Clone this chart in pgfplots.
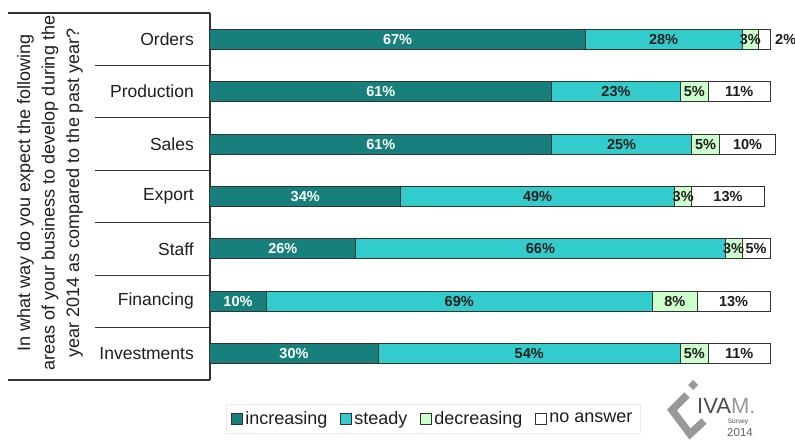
\documentclass[border=0pt]{standalone}
\usepackage{pgfplots}
\pgfplotsset{compat=1.18}
\usepackage{pgfplotstable}
\usepackage{fontspec}
\setmainfont{Liberation Sans}
\definecolor{cinc}{HTML}{17807C}
\definecolor{cst}{HTML}{33CCCC}
\definecolor{cdec}{HTML}{CCFFCC}
\definecolor{frm}{HTML}{333333}
\definecolor{lbl}{HTML}{1E1E1E}
\pgfplotstableread{
idx inc st dec na
0 67 28 3 2
1 61 23 5 11
2 61 25 5 10
3 34 49 3 13
4 26 66 3 5
5 10 69 8 13
6 30 54 5 11
}\data
\pgfplotsset{
  common/.style={
    at={(210pt,62pt)}, anchor=south west,
    scale only axis, width=560pt, height=367pt,
    xmin=0, xmax=100, ymin=-0.5, ymax=6.5, y dir=reverse,
    clip=false,
  },
}
\begin{document}
\begin{tikzpicture}[x=1pt,y=1pt]
\path[use as bounding box] (0,0) rectangle (795,442);
\begin{axis}[
  common,
  xbar stacked, bar width=20pt,
  axis line style={draw=none},
  xtick=\empty,
  ytick={0,1,2,3,4,5,6},
  yticklabels={Orders,Production,Sales,Export,Staff,Financing,Investments},
  major tick length=0pt,
  yticklabel style={font=\fontsize{17.5}{20}\selectfont, anchor=east, inner sep=0pt, xshift=-16pt, text=lbl},
  legend style={at={(0.398,-0.105)}, anchor=center, legend columns=-1,
    draw=gray!15, font=\fontsize{18}{20}\selectfont, inner xsep=5pt, inner ysep=5pt,
    /tikz/every odd column/.append style={column sep=0pt},
    /tikz/every even column/.append style={column sep=10pt},
    nodes={inner xsep=2.5pt, text=lbl}},
  legend image code/.code={\draw[#1, draw=frm, line width=1pt] (0pt,-5.5pt) rectangle (11pt,5.5pt);},
]
\addplot[fill=cinc, draw=frm, line width=1pt] table[x=inc, y=idx]{\data};
\addplot[fill=cst, draw=frm, line width=1pt] table[x=st, y=idx]{\data};
\addplot[fill=cdec, draw=frm, line width=1pt] table[x=dec, y=idx]{\data};
\addplot[fill=white, draw=frm, line width=1pt] table[x=na, y=idx]{\data};
\legend{increasing,steady,decreasing,no answer}
% frame lines
\draw[frm, line width=1.4pt] (axis cs:0,-0.5) -- (axis cs:0,6.5);
\draw[frm, line width=1.2pt] (axis cs:0,-0.5) -- ([xshift=-202pt]axis cs:0,-0.5);
\draw[frm, line width=1.2pt] (axis cs:0,6.5) -- ([xshift=-202pt]axis cs:0,6.5);
\draw[frm, line width=1.2pt] (axis cs:0,0.5) -- ([xshift=-115pt]axis cs:0,0.5);
\draw[frm, line width=1.2pt] (axis cs:0,1.5) -- ([xshift=-115pt]axis cs:0,1.5);
\draw[frm, line width=1.2pt] (axis cs:0,2.5) -- ([xshift=-115pt]axis cs:0,2.5);
\draw[frm, line width=1.2pt] (axis cs:0,3.5) -- ([xshift=-115pt]axis cs:0,3.5);
\draw[frm, line width=1.2pt] (axis cs:0,4.5) -- ([xshift=-115pt]axis cs:0,4.5);
\draw[frm, line width=1.2pt] (axis cs:0,5.5) -- ([xshift=-115pt]axis cs:0,5.5);
\end{axis}
\begin{axis}[
  common, hide axis,
  point meta=explicit,
  /pgf/number format/assume math mode=true,
  nodes near coords={\pgfmathprintnumber{\pgfplotspointmeta}\%},
  every node near coord/.append style={anchor=center, inner sep=0pt,
    font=\fontsize{14.5}{17}\selectfont\bfseries, text=lbl},
]
\addplot[draw=none, mark=none, every node near coord/.append style={text=white}]
  table[x expr=\thisrow{inc}/2, y=idx, meta=inc]{\data};
\addplot[draw=none, mark=none]
  table[x expr=\thisrow{inc}+\thisrow{st}/2, y=idx, meta=st]{\data};
\addplot[draw=none, mark=none]
  table[x expr=\thisrow{inc}+\thisrow{st}+\thisrow{dec}/2, y=idx, meta=dec]{\data};
\addplot[draw=none, mark=none]
  table[x expr={\thisrow{na}<3 ? 102.8 : \thisrow{inc}+\thisrow{st}+\thisrow{dec}+\thisrow{na}/2}, y=idx, meta=na]{\data};
\end{axis}
% question text
\node[rotate=90, align=center, text=lbl, font=\fontsize{18}{24.5}\selectfont] at (50,249)
  {In what way do you expect the following\\areas of your business to develop during the\\year 2014 as compared to the past year?};
% logo
\fill[gray!80] (693,62) -- (698,57) -- (693,52) -- (688,57) -- cycle;
\draw[gray!80, line width=7.5pt, line join=miter] (687,47) -- (672,32) -- (690,8) -- (704,21);
\node[anchor=base west, inner sep=0pt, text=gray!60!black, font=\fontsize{22}{22}\selectfont] at (697,29) {IVA\textcolor{gray!80}{M.}};
\node[inner sep=0pt, text=gray!60!black, font=\fontsize{6.5}{7}\selectfont] at (738,20) {Survey};
\node[inner sep=0pt, text=gray!75!black, font=\fontsize{11.5}{12}\selectfont] at (740,9.5) {2014};
\end{tikzpicture}
\end{document}
